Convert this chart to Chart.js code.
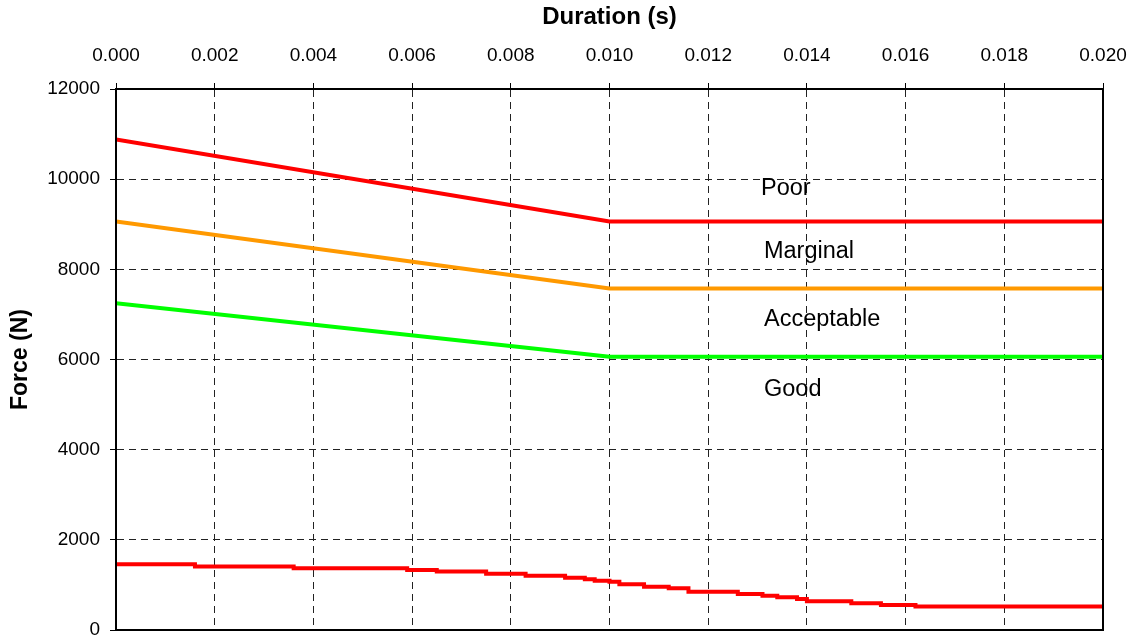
<!DOCTYPE html>
<html>
<head>
<meta charset="utf-8">
<script src="https://cdn.jsdelivr.net/npm/chart.js@4.4.1/dist/chart.umd.min.js"></script>
<style>
  body { margin: 0; background: #fff; }
  canvas { display: block; }
</style>
</head>
<body>
<canvas id="myChart" width="1136" height="640"></canvas>
<script>
// limit curves (duration in s, force in N)
const limitTime = [0, 0.010, 0.020];
const poorLimit = [10880, 9060, 9060];
const marginalLimit = [9060, 7575, 7575];
const acceptableLimit = [7250, 6060, 6060];

const traceTime = [0, 0.0016, 0.0036, 0.0059, 0.0065, 0.0075, 0.0083, 0.0091, 0.0095, 0.0097,
  0.0100, 0.0102, 0.0107, 0.0112, 0.0116, 0.0126, 0.0131, 0.0134, 0.0138, 0.0140,
  0.0149, 0.0155, 0.0162, 0.0171, 0.0200];
const traceForce = [1500, 1460, 1410, 1370, 1330, 1295, 1245, 1205, 1160, 1125,
  1090, 1070, 1015, 960, 925, 850, 800, 760, 725, 690,
  635, 595, 555, 520, 520];

// zone names and where they sit
const zoneNames = ['Poor', 'Marginal', 'Acceptable', 'Good'];
const zoneTime = [0.01307, 0.01313, 0.01313, 0.01313];
const zoneForce = [9785, 8405, 6880, 5345];

const FONT = '"Liberation Sans", Arial, sans-serif';

function toPoints(xs, ys) {
  return xs.map((x, i) => ({ x: x, y: ys[i] }));
}

// frame + zone names
const chartExtras = {
  id: 'chartExtras',
  afterDatasetsDraw(chart) {
    const { ctx, chartArea: { left, top, right, bottom }, scales: { x, y } } = chart;
    ctx.save();
    ctx.font = '23.5px ' + FONT;
    ctx.fillStyle = '#000';
    ctx.textAlign = 'left';
    ctx.textBaseline = 'middle';
    zoneNames.forEach((name, i) => {
      ctx.fillText(name, x.getPixelForValue(zoneTime[i]), y.getPixelForValue(zoneForce[i]));
    });
    ctx.lineWidth = 2;
    ctx.strokeStyle = '#000';
    ctx.strokeRect(left, top, right - left, bottom - top);
    ctx.restore();
  }
};

const line = (label, data, color, extra) => Object.assign({
  label: label,
  data: data,
  borderColor: color,
  backgroundColor: color,
  borderWidth: 4,
  pointRadius: 0,
  tension: 0,
  fill: false
}, extra || {});

const config = {
  type: 'line',
  data: {
    datasets: [
      line('Poor limit', toPoints(limitTime, poorLimit), '#ff0000'),
      line('Marginal limit', toPoints(limitTime, marginalLimit), '#ff9900'),
      line('Acceptable limit', toPoints(limitTime, acceptableLimit), '#00ff00'),
      line('Force', toPoints(traceTime, traceForce), '#ff0000', { stepped: 'after' })
    ]
  },
  options: {
    responsive: false,
    animation: false,
    layout: { padding: { left: 0, top: 0, right: 33, bottom: 10 } },
    plugins: {
      legend: { display: false },
      tooltip: { enabled: false }
    },
    scales: {
      x: {
        type: 'linear',
        position: 'top',
        min: 0,
        max: 0.020,
        afterFit(scale) {
          scale.height = 89;
          scale.paddingLeft = 0;
          scale.paddingRight = 0;
        },
        ticks: {
          stepSize: 0.002,
          padding: 16,
          color: '#000',
          font: { family: FONT, size: 19 },
          maxRotation: 0,
          callback: v => v.toFixed(3)
        },
        grid: { color: '#222', lineWidth: 1, tickLength: 6, tickColor: '#000' },
        border: { display: true, color: '#000', width: 2, dash: [7, 5] },
        title: {
          display: true,
          text: 'Duration (s)',
          color: '#000',
          font: { family: FONT, size: 24, weight: 'bold' },
          padding: { top: 3, bottom: 0 }
        }
      },
      y: {
        min: 0,
        max: 12000,
        afterFit(scale) {
          scale.width = 116;
          scale.paddingTop = 0;
          scale.paddingBottom = 0;
        },
        ticks: {
          stepSize: 2000,
          padding: 10,
          color: '#000',
          font: { family: FONT, size: 19 },
          callback: v => String(v)
        },
        grid: { color: '#222', lineWidth: 1, tickLength: 6, tickColor: '#000' },
        border: { display: true, color: '#000', width: 2, dash: [7, 5] },
        title: {
          display: true,
          text: 'Force (N)',
          color: '#000',
          font: { family: FONT, size: 23, weight: 'bold' },
          padding: { top: 7, bottom: 0 }
        }
      }
    }
  },
  plugins: [chartExtras]
};

const myChart = new Chart(document.getElementById('myChart'), config);
</script>
</body>
</html>
